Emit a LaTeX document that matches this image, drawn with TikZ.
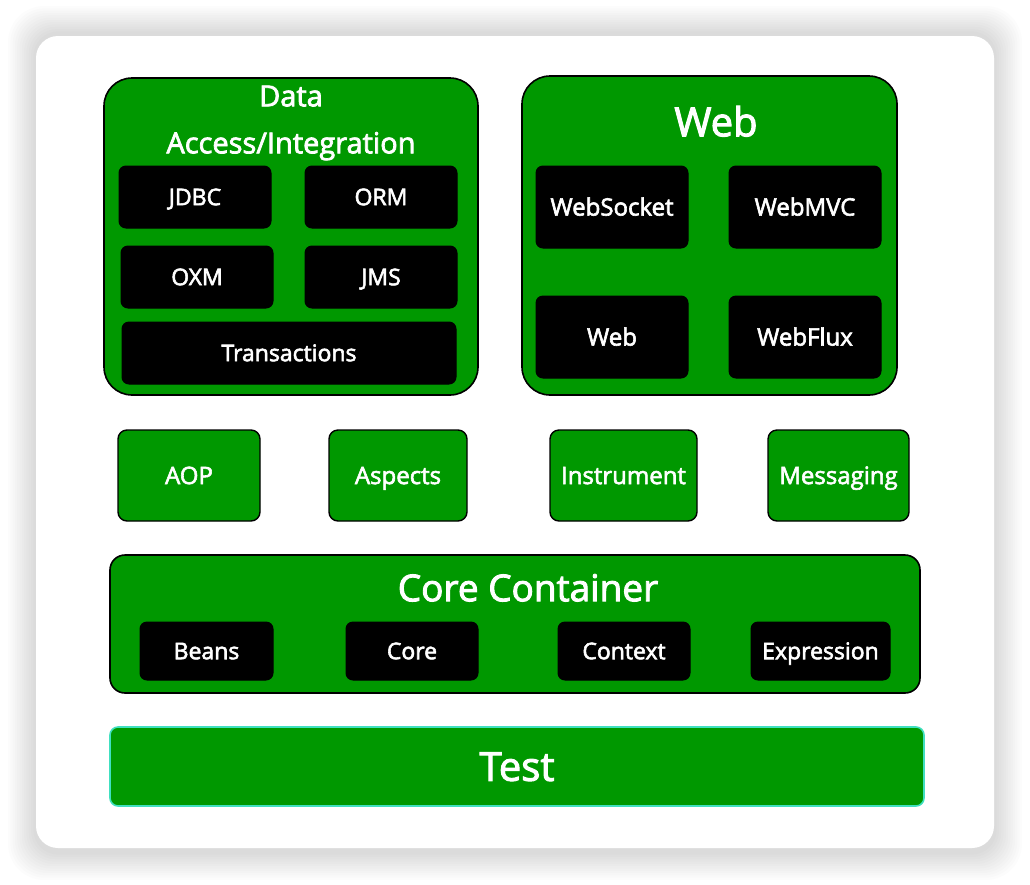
\documentclass[tikz,border=0pt]{standalone}
\usepackage{fontspec}
\setmainfont{Open Sans}[FakeBold=2.5]
\usetikzlibrary{positioning}
\definecolor{leafgreen}{RGB}{0,152,0}
\definecolor{testedge}{RGB}{64,224,192}
\tikzset{%
 group/.style={draw=black, fill=leafgreen, line width=1.6pt, rounded corners=28pt, inner sep=0pt},
 part/.style={draw=black, fill=black, line width=1pt, rounded corners=7pt, inner sep=0pt,
              text=white, text height=16.4pt, text depth=0pt, font=\fontsize{23}{27}\selectfont},
 module/.style={draw=black, fill=leafgreen, line width=1.4pt, rounded corners=9pt, inner sep=0pt,
                text=white, text height=17.1pt, text depth=0pt, font=\fontsize{24}{28}\selectfont},
 title/.style={text=white, inner sep=0pt, text depth=0pt}
}

\begin{document}
\begin{tikzpicture}[x=1pt, y=-1pt]
 \useasboundingbox (0,0) rectangle (1030,884);
 % card with soft shadow
 \foreach \i in {0,...,11}
  \fill [black, opacity=.011, rounded corners=36pt-\i pt] (8+2.3*\i,6+2.3*\i) rectangle (1022-2.3*\i,880-2.3*\i);
 \fill [white, rounded corners=22pt] (36,36) rectangle (994,848);

 % data access / integration
 \node [group, minimum width=374pt, minimum height=317pt] (data) at (291,236.5) {};
 \node [title, text height=20.7pt, font=\fontsize{29}{34}\selectfont] (dataTitle) at (291,96) {Data};
 \node [title, text height=20.7pt, font=\fontsize{29}{34}\selectfont] (dataTitle2) at (291,143) {Access/Integration};
 \foreach \name/\x/\y/\txt in {jdbc/195/197/JDBC, orm/381/197/ORM,
                               oxm/197/277/OXM, jms/381/277/JMS}
  \node [part, minimum width=152pt, minimum height=62pt] (\name) at (\x,\y) {\txt};
 \node [part, minimum width=334pt, minimum height=62pt] (tx) at (289,353) {Transactions};

 % web
 \node [group, minimum width=375pt, minimum height=319pt] (web) at (709.5,235.5) {};
 \node [title, text height=28.6pt, font=\fontsize{40}{46}\selectfont] (webTitle) at (716,122) {Web};
 \foreach \name/\x/\y/\txt in {socket/612/207/WebSocket, mvc/805/207/WebMVC,
                               webmod/612/337/Web, flux/805/337/WebFlux}
  \node [part, minimum width=152pt, minimum height=82pt, text height=17.1pt,
         font=\fontsize{24}{28}\selectfont] (\name) at (\x,\y) {\txt};

 % middle row
 \foreach \name/\x/\w/\txt in {aop/189/142/AOP, aspects/398/138/Aspects,
                               instr/623.5/147/Instrument, msg/838.5/141/Messaging}
  \node [module, minimum width=\w pt, minimum height=91pt] (\name) at (\x,475.5) {\txt};

 % core container
 \node [group, rounded corners=15pt, minimum width=810pt, minimum height=138pt] (core) at (515,624) {};
 \node [title, text height=26.4pt, font=\fontsize{37}{42}\selectfont] (coreTitle) at (528,588) {Core Container};
 \foreach \name/\x/\w/\txt in {beans/206.5/133/Beans, coremod/412/132/Core,
                               ctx/624/132/Context, expr/820.5/139/Expression}
  \node [part, minimum width=\w pt, minimum height=58pt] (\name) at (\x,651) {\txt};

 % test
 \node [group, draw=testedge, rounded corners=8pt, minimum width=814pt, minimum height=79pt,
        text=white, text height=28.6pt, text depth=0pt, font=\fontsize{40}{46}\selectfont] (test) at (517,766.5) {Test};
\end{tikzpicture}
\end{document}
